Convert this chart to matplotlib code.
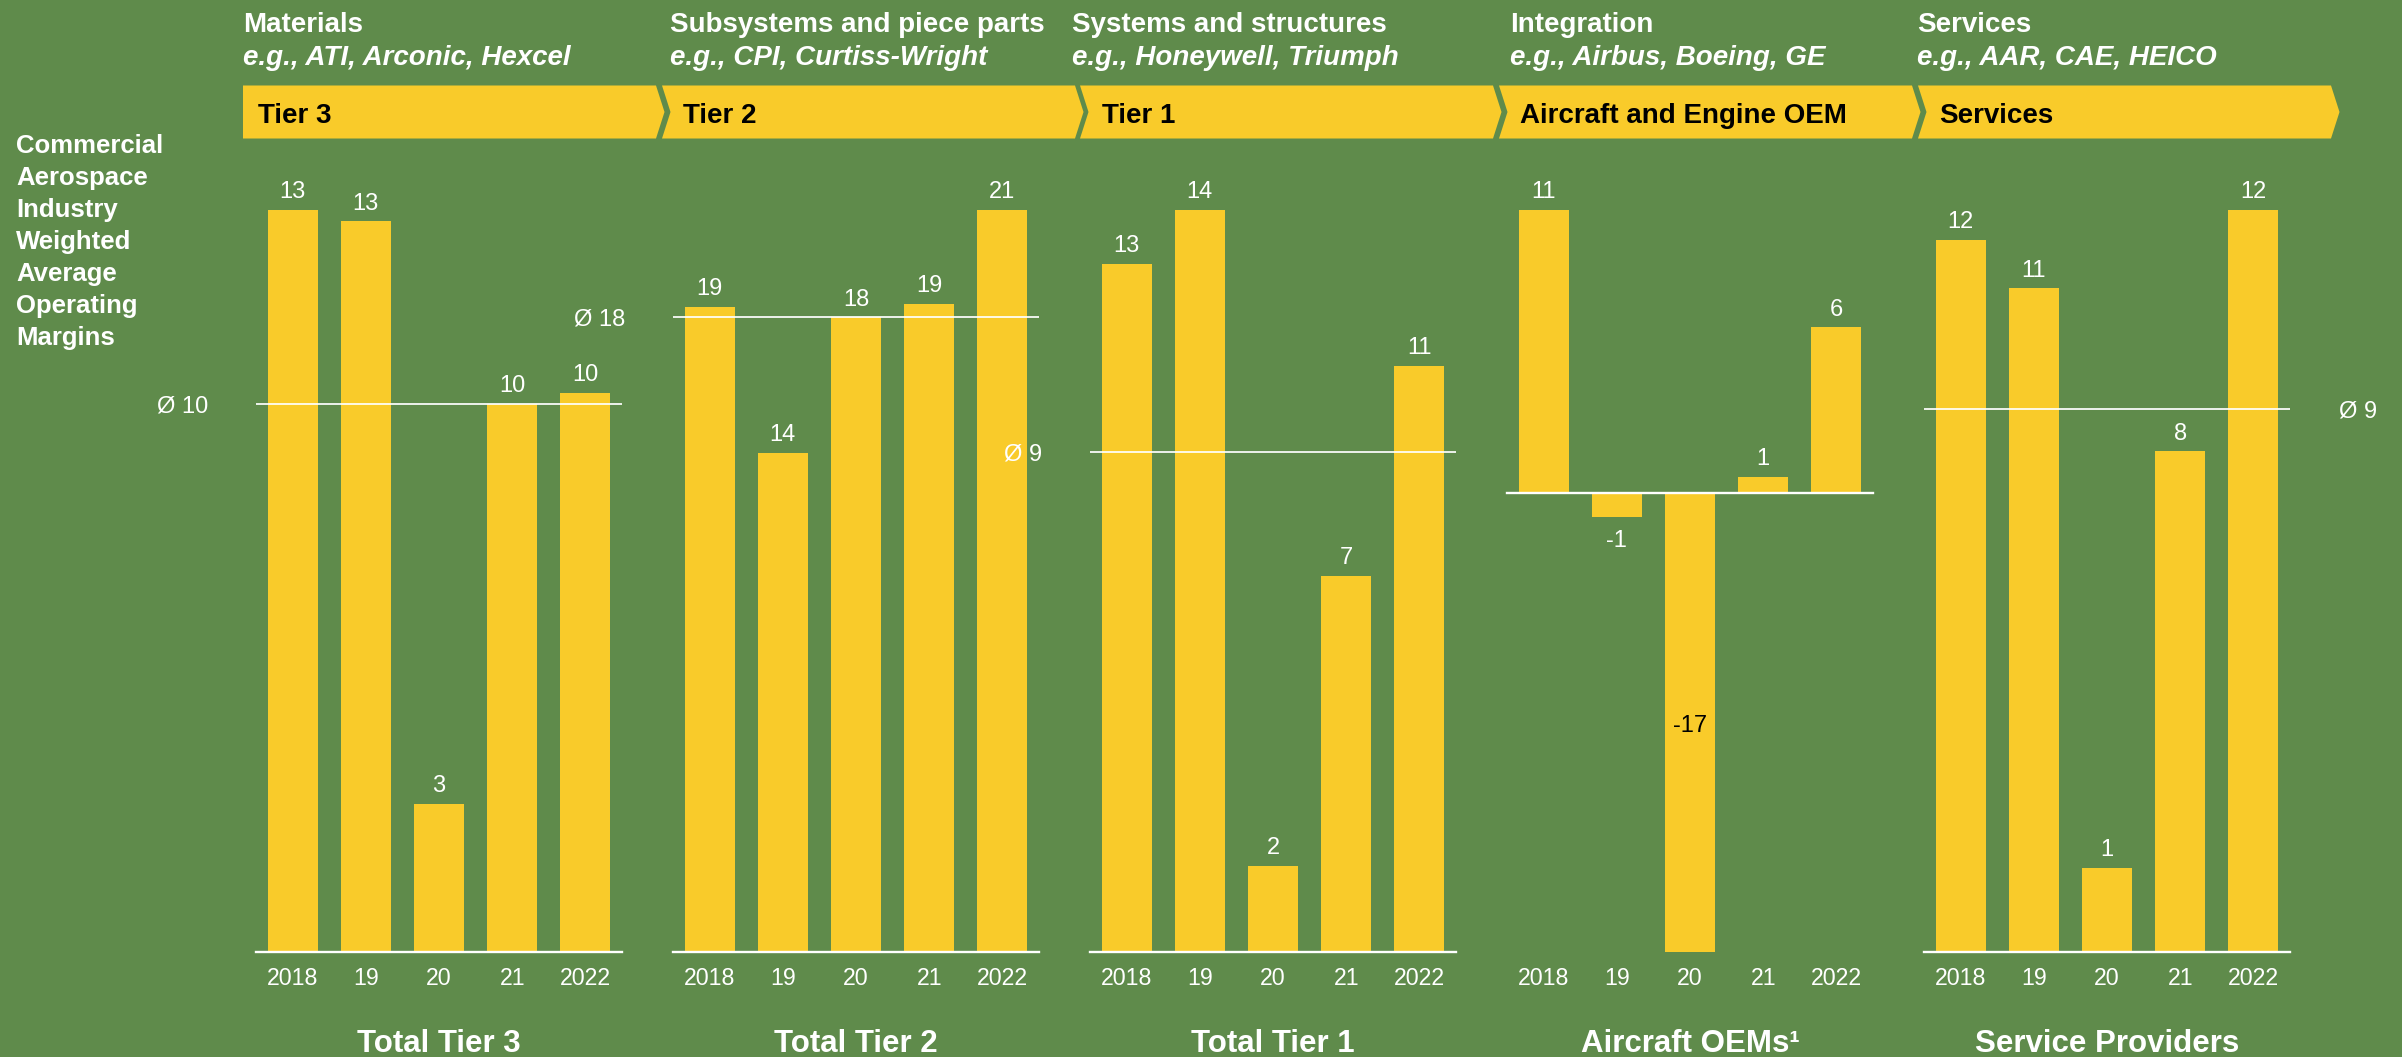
import matplotlib
matplotlib.use('Agg')
import matplotlib.pyplot as plt
from matplotlib.patches import Polygon

plt.rcParams['font.family'] = ['Liberation Sans', 'DejaVu Sans']

# ---------------- data ----------------
years = ['2018', '19', '20', '21', '2022']
tier3 = [13.0, 12.8, 2.6, 9.6, 9.8]
tier2 = [18.6, 14.4, 18.3, 18.7, 21.4]
tier1 = [12.8, 13.8, 1.6, 7.0, 10.9]
oems = [10.6, -0.9, -17.2, 0.6, 6.2]
services = [11.8, 11.0, 1.4, 8.3, 12.3]
averages = [9.6, 18.3, 9.3, None, 9.0]
avg_labels = ['Ø 10', 'Ø 18', 'Ø 9', None, 'Ø 9']
panel_titles = ['Total Tier 3', 'Total Tier 2', 'Total Tier 1', 'Aircraft OEMs¹', 'Service Providers']
band_labels = ['Tier 3', 'Tier 2', 'Tier 1', 'Aircraft and Engine OEM', 'Services']
header_lines = ['Materials', 'Subsystems and piece parts', 'Systems and structures',
                'Integration', 'Services']
header_examples = ['e.g., ATI, Arconic, Hexcel', 'e.g., CPI, Curtiss-Wright',
                   'e.g., Honeywell, Triumph', 'e.g., Airbus, Boeing, GE',
                   'e.g., AAR, CAE, HEICO']
side_label = 'Commercial\nAerospace\nIndustry\nWeighted\nAverage\nOperating\nMargins'

series = [tier3, tier2, tier1, oems, services]

# ---------------- style / layout ----------------
W, H = 2402, 1057
BG = '#5F8B4B'
YEL = '#F9CB2A'
PX = 72 / 100  # points per pixel
NUM_FS = 17

fig = plt.figure(figsize=(W / 100, H / 100), dpi=100, facecolor=BG)


def fx(px):
    return px / W


def fy(py):
    return 1 - py / H


panel_left = [256, 673, 1090, 1507, 1924]
panel_w = 366
top_px, base_px = 210, 952
avg_side = ['left', 'left', 'left', None, 'right']

for i, vals in enumerate(series):
    ax = fig.add_axes([fx(panel_left[i]), fy(base_px), panel_w / W, (base_px - top_px) / H])
    ax.patch.set_visible(False)
    for sp in ax.spines.values():
        sp.set_visible(False)
    ax.set_xlim(-0.5, 4.5)
    ax.set_ylim(min(0, min(vals)), max(vals))
    xs = list(range(len(vals)))
    ax.bar(xs, vals, width=0.683, color=YEL, zorder=2, clip_on=False)
    ax.axhline(0, color='white', lw=1.7, zorder=3, clip_on=False)
    ax.set_yticks([])
    ax.set_xticks(xs, years)
    ax.tick_params(axis='x', length=0, pad=10.5, labelsize=16.7, labelcolor='white')

    for x, v in zip(xs, vals):
        lab = f'{v:.0f}'
        if v >= 0:
            ax.annotate(lab, (x, v), xytext=(0, 11.7 * PX), textcoords='offset points',
                        ha='center', va='baseline', fontsize=NUM_FS, color='white')
        elif v < min(vals) * 0.5:
            ax.annotate(lab, (x, v / 2), xytext=(0, -9.5 * PX), textcoords='offset points',
                        ha='center', va='baseline', fontsize=NUM_FS, color='black')
        else:
            ax.annotate(lab, (x, v), xytext=(0, -30 * PX), textcoords='offset points',
                        ha='center', va='baseline', fontsize=NUM_FS, color='white')

    if averages[i] is not None:
        ax.axhline(averages[i], color='white', lw=1.25, zorder=4)
        tr = ax.get_yaxis_transform()
        if avg_side[i] == 'left':
            ax.annotate(avg_labels[i], (0, averages[i]), xycoords=tr, xytext=(-48 * PX, -8.5 * PX),
                        textcoords='offset points', ha='right', va='baseline',
                        fontsize=NUM_FS, color='white')
        else:
            ax.annotate(avg_labels[i], (1, averages[i]), xycoords=tr, xytext=(49 * PX, -8.5 * PX),
                        textcoords='offset points', ha='left', va='baseline',
                        fontsize=NUM_FS, color='white')

    fig.text(fx(panel_left[i] + panel_w / 2), fy(1051.7), panel_titles[i], ha='center',
             va='baseline', fontsize=22.5, fontweight='bold', color='white')

# chevron bands
band_start = [243, 662, 1080, 1499, 1918]
band_text_x = [258, 683, 1102, 1520, 1939]
header_x = [243, 670, 1072, 1510, 1917]
band_len, tip = 413, 8.5
band_top, band_bot = 85.5, 138.5
mid = (band_top + band_bot) / 2
for k, s in enumerate(band_start):
    e = s + band_len
    pts = [(s, band_top), (e, band_top), (e + tip, mid), (e, band_bot), (s, band_bot)]
    if k > 0:
        pts.append((s + tip, mid))
    fig.add_artist(Polygon([(fx(x), fy(y)) for x, y in pts], closed=True,
                           transform=fig.transFigure, facecolor=YEL, edgecolor='none'))
    fig.text(fx(band_text_x[k]), fy(123.3), band_labels[k], ha='left', va='baseline',
             fontsize=20, fontweight='bold', color='black')
    fig.text(fx(header_x[k]), fy(31.7), header_lines[k], ha='left', va='baseline',
             fontsize=20, fontweight='bold', color='white')
    fig.text(fx(header_x[k]), fy(65), header_examples[k], ha='left', va='baseline',
             fontsize=20, fontweight='bold', fontstyle='italic', color='white')

# multi-line text: 'baseline' aligns the last line's baseline
fig.text(fx(16), fy(345), side_label, ha='left', va='baseline', fontsize=18.5,
         fontweight='bold', color='white', linespacing=1.42)

fig.savefig('out.png', dpi=100, facecolor=BG)
